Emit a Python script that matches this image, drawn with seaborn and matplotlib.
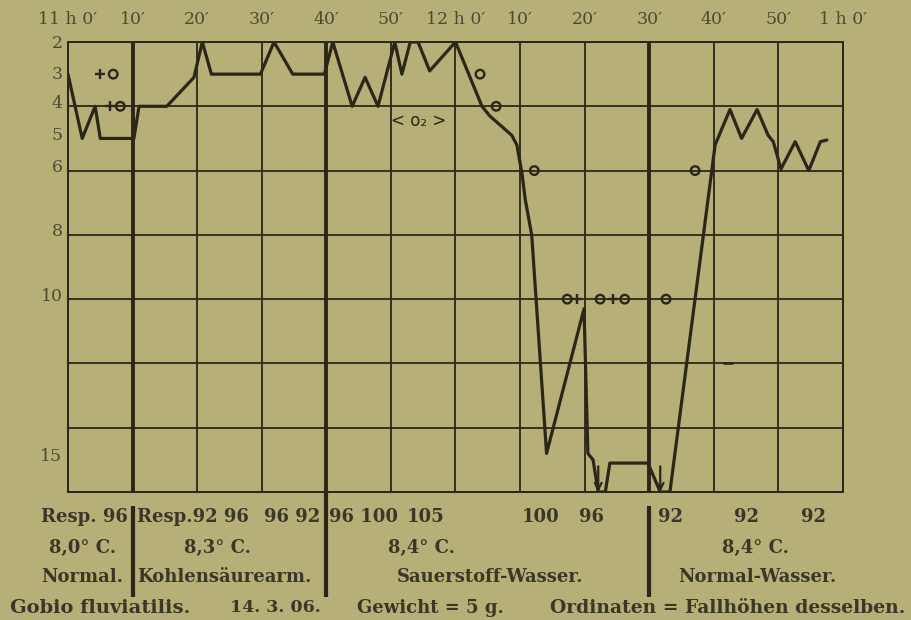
import numpy as np
import pandas as pd
import matplotlib
matplotlib.use("Agg")
import matplotlib.pyplot as plt
import seaborn as sns
from matplotlib.transforms import ScaledTranslation, blended_transform_factory

# Time in minutes after 11 h 0' and the fall height of the fish at that moment
minutes = [0.0, 2.2, 4.2, 5.0, 9.8, 10.2, 11.0, 15.3, 19.5, 20.8, 22.2, 29.8,
           31.9, 34.8, 39.7, 41.0, 44.0, 46.0, 48.0, 50.6, 51.7, 53.0, 54.2,
           56.0, 60.0, 64.1, 65.3, 68.7, 69.5, 70.3, 70.8, 71.8, 74.1, 79.9,
           80.5, 81.3, 82.1, 83.2, 83.9, 89.8, 91.7, 93.2, 100.2, 102.5, 104.3,
           106.7, 108.4, 109.2, 110.4, 112.6, 114.7, 116.5, 117.5]
fall_height = [3.0, 5.0, 4.0, 5.0, 5.0, 5.0, 4.0, 4.0, 3.1, 2.0, 3.0, 3.0,
               2.0, 3.0, 3.0, 2.0, 4.0, 3.1, 4.0, 2.0, 3.0, 2.0, 2.0,
               2.9, 2.0, 4.0, 4.3, 4.9, 5.2, 6.1, 6.9, 8.0, 14.8, 10.3,
               14.8, 15.0, 16.0, 16.0, 15.1, 15.1, 16.0, 16.0, 5.2, 4.1, 5.0,
               4.1, 4.9, 5.1, 5.95, 5.1, 6.0, 5.1, 5.05]

# Single observation marks
circle_min = [7.0, 8.1, 63.8, 66.3, 72.2, 77.3, 82.4, 86.2, 92.6, 97.1]
circle_h = [3.0, 4.0, 3.0, 4.0, 6.0, 10.0, 10.0, 10.0, 10.0, 6.0]
plus_min = [5.0, 6.5, 78.8, 84.4]
plus_h = [3.0, 4.0, 10.0, 10.0]
dash_min = [102.2]
dash_h = [12.0]
arrow_min = [82.1, 91.7]

time_ticks = list(range(0, 121, 10))
time_labels = ["11 h 0′", "10′", "20′", "30′", "40′", "50′", "12 h 0′",
               "10′", "20′", "30′", "40′", "50′", "1 h 0′"]
height_ticks = [2, 3, 4, 5, 6, 8, 10, 15]
height_grid = list(range(2, 17, 2))

# Change of water between the experimental periods
period_bounds = [10, 40, 90]

# Respiration counts, temperatures and media below the chart
resp_labels = ["Resp. 96", "Resp.92 96", "96 92", "96 100", "105", "100", "96",
               "92", "92", "92"]
resp_pos = [9.3, 10.7, 39.0, 40.4, 55.3, 73.2, 81.1, 91.4, 105.1, 115.4]
resp_ha = ["right", "left", "right", "left", "center", "center", "center",
           "left", "center", "center"]
temp_labels = ["8,0° C.", "8,3° C.", "8,4° C.", "8,4° C."]
temp_pos = [2.2, 23.1, 54.8, 106.5]
medium_labels = ["Normal.", "Kohlensäurearm.", "Sauerstoff-Wasser.", "Normal-Wasser."]
medium_pos = [8.6, 10.7, 65.3, 106.7]
medium_ha = ["right", "left", "center", "center"]

caption_parts = ["Gobio fluviatilis.", "14. 3. 06.", "Gewicht = 5 g.",
                 "Ordinaten = Fallhöhen desselben."]
caption_x = [10, 321, 430, 905]
caption_ha = ["left", "right", "center", "right"]
caption_size = [14, 12.5, 13, 13.5]

paper = "#b6af77"
ink = "#2a2719"
soft_ink = "#4e4b34"
print_ink = "#3a3726"

sns.set_style("white")
plt.rcParams["font.family"] = ["DejaVu Serif"]

fig = plt.figure(figsize=(9.12, 6.2), dpi=100, facecolor=paper)
ax = fig.add_axes([68 / 912, 1 - 492 / 620, 775 / 912, 450 / 620])
ax.set_facecolor(paper)

curve = pd.DataFrame({"Zeit": minutes, "Fallhöhe": fall_height})
sns.lineplot(data=curve, x="Zeit", y="Fallhöhe", sort=False, estimator=None,
             color=ink, lw=2.3, ax=ax, zorder=5)

ax.set_xlim(0, 120)
ax.set_ylim(16, 2)

# grid
ax.set_xticks(time_ticks)
ax.set_xticklabels(time_labels)
ax.set_yticks(height_ticks)
ax.set_yticklabels([str(v) for v in height_ticks])
ax.grid(False)
for t in time_ticks:
    ax.axvline(t, color=ink, lw=1.3, zorder=1)
for h in height_grid:
    ax.axhline(h, color=ink, lw=1.3, zorder=1)
for b in period_bounds:
    ax.axvline(b, color=ink, lw=2.8, zorder=2)

for s in ax.spines.values():
    s.set_color(ink)
    s.set_linewidth(1.4)

ax.xaxis.tick_top()
ax.tick_params(axis="x", length=0, pad=10, labelsize=12.5, labelcolor=soft_ink)
ax.tick_params(axis="y", which="both", length=0, pad=4, labelsize=12.5,
               labelcolor=soft_ink)
for lab, v in zip(ax.get_yticklabels(), height_ticks):
    up = 0 if v == 2 else (2 if v == 3 else 5)
    lab.set_transform(lab.get_transform()
                      + ScaledTranslation(0, up / 100, fig.dpi_scale_trans))
ax.set_xlabel("")
ax.set_ylabel("")

# observation marks
ax.scatter(circle_min, circle_h, s=38, marker="o", facecolors="none",
           edgecolors=ink, linewidths=1.7, zorder=6)
ax.scatter(plus_min, plus_h, s=50, marker="+", color=ink, linewidths=1.7, zorder=6)
ax.scatter(dash_min, dash_h, s=60, marker="_", color=ink, linewidths=1.8, zorder=6)
for m in arrow_min:
    ax.annotate("", xy=(m, 16.0), xytext=(m, 15.2),
                arrowprops=dict(arrowstyle="->", color=ink, lw=1.6,
                                shrinkA=0, shrinkB=0, mutation_scale=12),
                zorder=6, annotation_clip=False)
ax.text(54.3, 4.45, "< o₂ >", ha="center", va="center", fontsize=12,
        color=ink, family=["DejaVu Sans"])

# labels below the chart
below = blended_transform_factory(ax.transData, ax.transAxes)
txt = dict(transform=below, va="center", fontsize=13, fontweight="bold",
           color=print_ink, clip_on=False)
for lab, x, ha in zip(resp_labels, resp_pos, resp_ha):
    ax.text(x, -0.056, lab, ha=ha, **txt)
for lab, x in zip(temp_labels, temp_pos):
    ax.text(x, -0.124, lab, ha="center", **txt)
for lab, x, ha in zip(medium_labels, medium_pos, medium_ha):
    ax.text(x, -0.189, lab, ha=ha, **txt)

for b, top in zip(period_bounds, [-0.03, 0.0, -0.03]):
    ax.plot([b, b], [top, -0.234], transform=below, color=ink, lw=3.0,
            clip_on=False, solid_capstyle="butt")

for part, x, ha, size in zip(caption_parts, caption_x, caption_ha, caption_size):
    fig.text(x / 912, 1 - 608 / 620, part, ha=ha, va="center", fontsize=size,
             fontweight="bold", color=print_ink)

fig.savefig("out.png", dpi=100, facecolor=paper)
